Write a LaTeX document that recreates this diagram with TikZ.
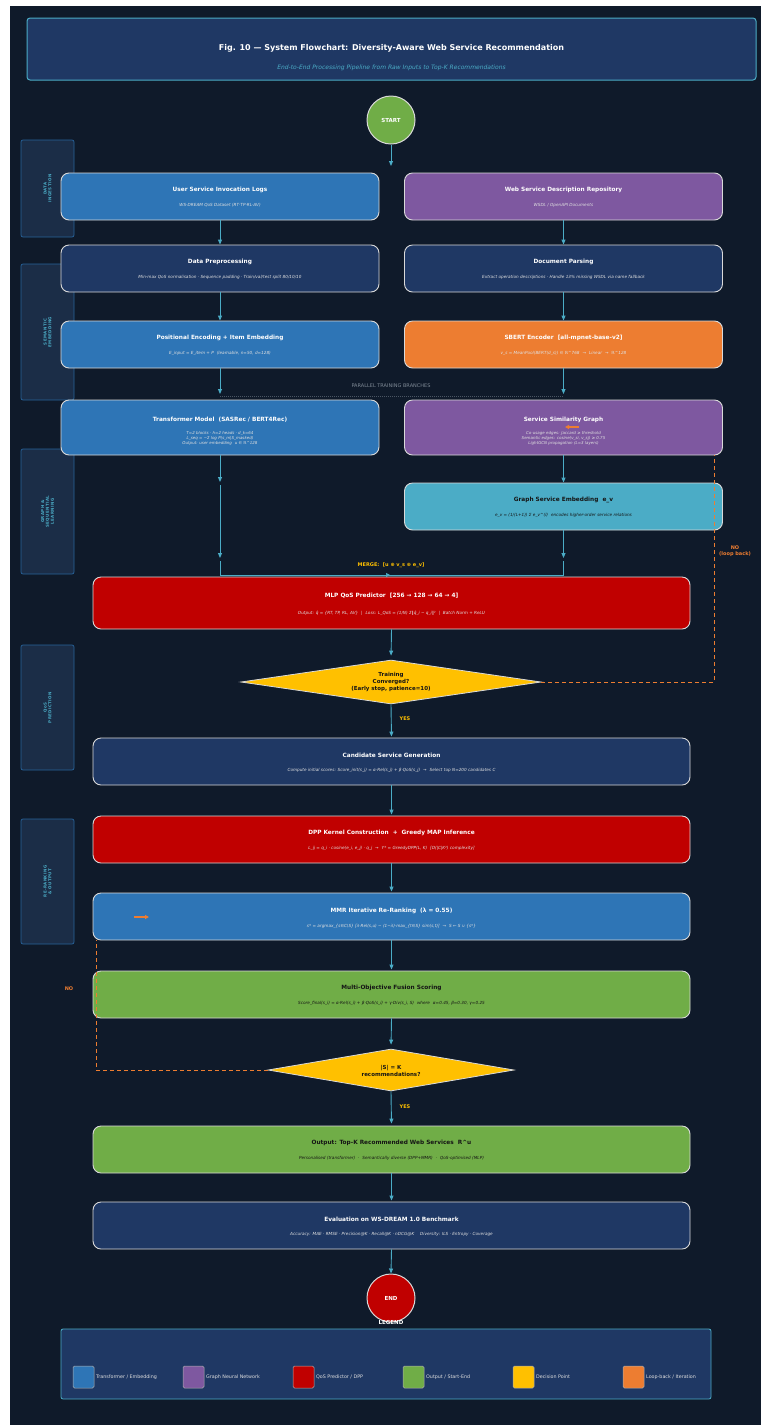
\documentclass[tikz,border=0pt]{standalone}
\usepackage{fontspec}
\setmainfont{DejaVu Sans}
\usetikzlibrary{shapes.geometric,arrows.meta}
\definecolor{bg}{HTML}{0F1A2A}
\definecolor{navy}{HTML}{1F3864}
\definecolor{cblue}{HTML}{2E75B6}
\definecolor{cpurple}{HTML}{7E58A0}
\definecolor{corange}{HTML}{ED7D31}
\definecolor{cred}{HTML}{C00000}
\definecolor{cgreen}{HTML}{70AD47}
\definecolor{cyellow}{HTML}{FFC000}
\definecolor{cteal}{HTML}{4BACC6}
\definecolor{lanefill}{HTML}{1B2D47}
\definecolor{edgec}{HTML}{D9D9D9}
\definecolor{darktxt}{HTML}{151515}
\definecolor{graytxt}{HTML}{7F8A96}
\definecolor{dotc}{HTML}{4A5563}
\newcommand\myg{\hspace{0.7em}}
\tikzset{
  box/.style={draw=edgec, line width=0.9pt, rounded corners=8pt, minimum height=47pt, inner sep=0pt},
  lbox/.style={box, minimum width=318pt},
  wbox/.style={box, minimum width=597pt},
  ttlw/.style={font=\fontsize{5.8}{7}\selectfont\bfseries, text=white, inner sep=0pt},
  ttld/.style={ttlw, text=darktxt},
  subw/.style={font=\fontsize{4.2}{5}\selectfont\itshape, text=white!88!black, inner sep=0pt, align=center},
  subd/.style={subw, text=darktxt},
  arr/.style={draw=cteal, line width=0.9pt, -{Triangle[length=5pt,width=4pt]}},
  plain/.style={draw=cteal, line width=0.9pt},
  lane/.style={draw=cblue!85!black, fill=lanefill, line width=0.7pt, rounded corners=2pt, minimum width=53pt, inner sep=0pt},
  lanetxt/.style={rotate=90, text=cteal, font=\fontsize{4}{4.8}\selectfont\bfseries\addfontfeatures{LetterSpace=10}, align=center, inner sep=0pt},
  loopl/.style={draw=corange, line width=1pt, dash pattern=on 4pt off 3pt},
  looparr/.style={draw=corange, line width=1.2pt, -{Triangle[length=4pt,width=4pt]}},
  dec/.style={diamond, fill=cyellow, draw=edgec, line width=0.8pt, inner sep=0pt},
  dectxt/.style={font=\fontsize{5.5}{7}\selectfont\bfseries, text=darktxt, align=center, inner sep=0pt},
  lbl/.style={font=\fontsize{5}{6}\selectfont\bfseries, inner sep=0pt, align=center},
  term/.style={circle, draw=edgec, line width=1pt, minimum size=48pt, inner sep=0pt, font=\fontsize{5.5}{7}\selectfont\bfseries, text=white},
  sw/.style={draw=edgec!80!black, line width=0.5pt, rounded corners=1.5pt, minimum width=21pt, minimum height=22pt, inner sep=0pt},
  swt/.style={font=\fontsize{4.8}{6}\selectfont, text=white!88!black, anchor=west, inner sep=0pt},
}
\begin{document}
\begin{tikzpicture}[x=1pt,y=-1pt]
\useasboundingbox (0,0) rectangle (761,1425);
\fill[white] (0,0) rectangle (761,1425);
\fill[bg] (10,6) rectangle (761,1425);

% title
\node[draw=cteal, fill=navy, line width=1pt, rounded corners=3pt, minimum width=729pt, minimum height=62pt, inner sep=0pt] (title) at (391.5,49) {};
\node[font=\fontsize{8}{10}\selectfont\bfseries, text=white, inner sep=0pt] (titlet) at ([yshift=1pt]title.center) {Fig. 10 — System Flowchart: Diversity-Aware Web Service Recommendation};
\node[font=\fontsize{6}{8}\selectfont\itshape, text=cteal, inner sep=0pt] (titles) at ([yshift=-19pt]title.center) {End-to-End Processing Pipeline from Raw Inputs to Top-K Recommendations};

% lanes
\node[lane, minimum height=97pt] (lane1) at (47.5,188.5) {};
\node[lanetxt] (lane1t) at (lane1.center) {DATA\\INGESTION};
\node[lane, minimum height=136pt] (lane2) at (47.5,332) {};
\node[lanetxt] (lane2t) at (lane2.center) {SEMANTIC\\EMBEDDING};
\node[lane, minimum height=125pt] (lane3) at (47.5,511.5) {};
\node[lanetxt] (lane3t) at (lane3.center) {GRAPH \&\\SEQUENTIAL\\LEARNING};
\node[lane, minimum height=125pt] (lane4) at (47.5,707.5) {};
\node[lanetxt] (lane4t) at (lane4.center) {QoS\\PREDICTION};
\node[lane, minimum height=125pt] (lane5) at (47.5,881.5) {};
\node[lanetxt] (lane5t) at (lane5.center) {RE-RANKING\\\& OUTPUT};

% start
\node[term, fill=cgreen] (start) at (391,120) {START};
\coordinate (startend) at (391,166);

% row 1
\node[lbox, fill=cblue] (logs) at (220,196.5) {};
\node[ttlw] (logst) at ([yshift=6.5pt]logs.center) {User Service Invocation Logs};
\node[subw] (logss) at ([yshift=-8.5pt]logs.center) {WS-DREAM QoS Dataset (RT·TP·RL·AV)};
\node[lbox, fill=cpurple] (repo) at (563.5,196.5) {};
\node[ttlw] (repot) at ([yshift=6.5pt]repo.center) {Web Service Description Repository};
\node[subw] (repos) at ([yshift=-8.5pt]repo.center) {WSDL / OpenAPI Documents};

% row 2
\node[lbox, fill=navy] (prep) at (220,268.5) {};
\node[ttlw] (prept) at ([yshift=6.5pt]prep.center) {Data Preprocessing};
\node[subw] (preps) at ([yshift=-8.5pt]prep.center) {Min-max QoS normalisation · Sequence padding · Train/val/test split 80/10/10};
\node[lbox, fill=navy] (parse) at (563.5,268.5) {};
\node[ttlw] (parset) at ([yshift=6.5pt]parse.center) {Document Parsing};
\node[subw] (parses) at ([yshift=-8.5pt]parse.center) {Extract operation descriptions · Handle 13\% missing WSDL via name fallback};

% row 3
\node[lbox, fill=cblue] (posenc) at (220,344.5) {};
\node[ttlw] (posenct) at ([yshift=6.5pt]posenc.center) {Positional Encoding + Item Embedding};
\node[subw] (posencs) at ([yshift=-8.5pt]posenc.center) {E\_input = E\_item + P\myg(learnable, n=50, d=128)};
\node[lbox, fill=corange] (sbert) at (563.5,344.5) {};
\node[ttlw] (sbertt) at ([yshift=6.5pt]sbert.center) {SBERT Encoder\myg[all-mpnet-base-v2]};
\node[subw] (sberts) at ([yshift=-8.5pt]sbert.center) {v\_s = MeanPool(BERT(d\_s)) ∈ ℝ\textasciicircum 768\myg→\myg Linear\myg→\myg ℝ\textasciicircum 128};

% parallel
\coordinate (pl) at (220,394);
\coordinate (pr) at (563.5,394);
\coordinate (dl) at (220,396);
\coordinate (dr) at (563.5,396);
\node[font=\fontsize{5}{6}\selectfont, text=graytxt, inner sep=0pt] (partxt) at (391,386) {PARALLEL TRAINING BRANCHES};

% row 4
\node[lbox, fill=cblue, minimum height=55pt] (trans) at (220,427.5) {};
\node[ttlw] (transt) at (220,420) {Transformer Model\myg(SASRec / BERT4Rec)};
\node[subw, font=\fontsize{4}{5}\selectfont\itshape] (transs) at (220,438) {T=2 blocks · h=2 heads · d\_k=64\\L\_seq = −Σ log P(s\_m|S\_masked)\\Output: user embedding\myg u ∈ ℝ\textasciicircum 128};
\node[lbox, fill=cpurple, minimum height=55pt] (ssg) at (563.5,427.5) {};
\node[ttlw] (ssgt) at (563.5,420) {Service Similarity Graph};
\node[subw, font=\fontsize{4}{5}\selectfont\itshape] (ssgs) at (563.5,438) {Co-usage edges: Jaccard ≥ threshold\\Semantic edges: cosine(v\_si, v\_sj) ≥ 0.75\\LightGCN propagation (L=3 layers)};

% graph embedding
\node[lbox, fill=cteal] (gse) at (563.5,506.5) {};
\node[ttld] (gset) at ([yshift=6.5pt]gse.center) {Graph Service Embedding\myg e\_v};
\node[subd] (gses) at ([yshift=-8.5pt]gse.center) {e\_v = (1/(L+1)) Σ e\_v\textasciicircum(l)\myg encodes higher-order service relations};

% merge coordinates
\coordinate (lt1) at (220,482);
\coordinate (lt2) at (220,485);
\coordinate (lt3) at (220,558);
\coordinate (lt4) at (220,561);
\coordinate (rt3) at (563.5,558);
\coordinate (rt4) at (563.5,561);
\coordinate (merge) at (391,575);
\node[lbl, text=cyellow] (mergel) at (391,565.5) {MERGE:\myg[u ⊕ v\_s ⊕ e\_v]};

% MLP
\node[wbox, fill=cred, minimum height=52pt] (mlp) at (391.5,603) {};
\node[ttlw] (mlpt) at ([yshift=7pt]mlp.center) {MLP QoS Predictor\myg[256 → 128 → 64 → 4]};
\node[subw] (mlps) at ([yshift=-10pt]mlp.center) {Output: \^{q} = \{RT, TP, RL, AV\}\myg|\myg Loss: L\_QoS = (1/N) Σ‖\^{q}\_i − q\_i‖²\myg|\myg Batch Norm + ReLU};

% decision 1
\node[dec, minimum width=300pt, minimum height=44pt] (d1) at (391,682) {};
\node[dectxt] (d1t) at (d1.center) {Training\\Converged?\\(Early stop, patience=10)};
\node[lbl, text=cyellow] (yes1) at (405,719) {YES};
\coordinate (nl1a) at (714,682);
\coordinate (nl1b) at (714,455);
\node[lbl, text=corange, font=\fontsize{5}{6.2}\selectfont\bfseries] (no1) at (735,551) {NO\\(loop back)};
\coordinate (oa1s) at (579,427);
\coordinate (oa1e) at (565,427);

% candidate
\node[wbox, fill=navy] (cand) at (391.5,761.5) {};
\node[ttlw] (candt) at ([yshift=6.5pt]cand.center) {Candidate Service Generation};
\node[subw] (cands) at ([yshift=-8.5pt]cand.center) {Compute initial scores: Score\_init(s\_j) = α·Rel(s\_j) + β·QoS(s\_j)\myg→\myg Select top N=200 candidates C};

% DPP
\node[wbox, fill=cred] (dpp) at (391.5,839.5) {};
\node[ttlw] (dppt) at ([yshift=6.5pt]dpp.center) {DPP Kernel Construction\myg+\myg Greedy MAP Inference};
\node[subw] (dpps) at ([yshift=-8.5pt]dpp.center) {L\_ij = q\_i · cosine(e\_i, e\_j) · q\_j\myg→\myg Y* = GreedyDPP(L, K)\myg[O(|C|K²) complexity]};

% MMR
\node[wbox, fill=cblue] (mmr) at (391.5,916.5) {};
\node[ttlw] (mmrt) at ([yshift=5.5pt]mmr.center) {MMR Iterative Re-Ranking\myg(λ = 0.55)};
\node[subw] (mmrs) at ([yshift=-9.5pt]mmr.center) {s* = argmax\_\{s∈C\textbackslash S\} [λ·Rel(s,u) − (1−λ)·max\_\{t∈S\} sim(s,t)]\myg→\myg S ← S ∪ \{s*\}};
\coordinate (oa2s) at (134,917);
\coordinate (oa2e) at (149,917);

% fusion
\node[wbox, fill=cgreen] (fus) at (391.5,994.5) {};
\node[ttld] (fust) at ([yshift=6.5pt]fus.center) {Multi-Objective Fusion Scoring};
\node[subd] (fuss) at ([yshift=-8.5pt]fus.center) {Score\_final(s\_i) = α·Rel(s\_i) + β·QoS(s\_i) + γ·Div(s\_i, S)\myg where\myg α=0.45, β=0.30, γ=0.25};

% decision 2
\node[dec, minimum width=246pt, minimum height=42pt] (d2) at (391,1070) {};
\node[dectxt] (d2t) at ([yshift=-0.5pt]d2.center) {|S| = K\\recommendations?};
\node[lbl, text=cyellow] (yes2) at (405,1107) {YES};
\coordinate (nl2a) at (96,1070);
\coordinate (nl2b) at (96,940);
\node[lbl, text=corange] (no2) at (69,989) {NO};

% output
\node[wbox, fill=cgreen] (outp) at (391.5,1149.5) {};
\node[ttld] (outpt) at ([yshift=6.5pt]outp.center) {Output: Top-K Recommended Web Services\myg R\textasciicircum u};
\node[subd] (outps) at ([yshift=-8.5pt]outp.center) {Personalised (transformer)\myg·\myg Semantically diverse (DPP+MMR)\myg·\myg QoS-optimised (MLP)};

% evaluation
\node[wbox, fill=navy] (eval) at (391.5,1225.5) {};
\node[ttlw] (evalt) at ([yshift=6.5pt]eval.center) {Evaluation on WS-DREAM 1.0 Benchmark};
\node[subw] (evals) at ([yshift=-9pt]eval.center) {Accuracy: MAE · RMSE · Precision@K · Recall@K · nDCG@K\myg\myg Diversity: ILS · Entropy · Coverage};

% end
\node[term, fill=cred] (end) at (391,1298) {END};

% connectors
\draw[arr] (start.south) -- (startend);
\draw[arr] (logs.south) -- (prep.north);
\draw[arr] (repo.south) -- (parse.north);
\draw[arr] (prep.south) -- (posenc.north);
\draw[arr] (parse.south) -- (sbert.north);
\draw[arr] (posenc.south) -- (pl);
\draw[arr] (sbert.south) -- (pr);
\draw[draw=dotc, line width=1pt, dash pattern=on 1pt off 1pt] (dl) -- (dr);
\draw[arr] (trans.south) -- (lt1);
\draw[arr] (lt2) -- (lt3);
\draw[arr] (ssg.south) -- (gse.north);
\draw[arr] (gse.south) -- (rt3);
\draw[plain] (lt4) |- (merge);
\draw[plain] (rt4) |- (merge);
\draw[draw=cteal, line width=0.7pt, -{Triangle[length=4pt,width=4pt]}] ([xshift=-5pt]merge) -- ([xshift=-1pt]merge);
\draw[arr, shorten >=4pt] (mlp.south) -- (d1.north);
\draw[loopl] (d1.east) -- (nl1a) -- (nl1b);
\draw[looparr] (oa1s) -- (oa1e);
\draw[arr, shorten >=1pt] (d1.south) -- (cand.north);
\draw[arr, shorten >=1pt] (cand.south) -- (dpp.north);
\draw[arr, shorten >=1pt] (dpp.south) -- (mmr.north);
\draw[arr, shorten >=1pt] (mmr.south) -- (fus.north);
\draw[arr, shorten >=4pt] (fus.south) -- (d2.north);
\draw[loopl] (d2.west) -- (nl2a) -- (nl2b);
\draw[looparr] (oa2s) -- (oa2e);
\draw[arr, shorten >=2pt] (d2.south) -- (outp.north);
\draw[arr, shorten >=1pt] (outp.south) -- (eval.north);
\draw[arr] (eval.south) -- (end.north);

% legend
\node[draw=cteal, fill=navy, line width=0.8pt, rounded corners=2pt, minimum width=650pt, minimum height=70pt, inner sep=0pt] (legend) at (386,1364) {};
\node[font=\fontsize{5.5}{7}\selectfont\bfseries, text=white, inner sep=0pt] (legendt) at (391,1322) {LEGEND};
\node[sw, fill=cblue] (sw1) at (83.5,1377) {};
\node[swt] (sw1t) at (96,1377) {Transformer / Embedding};
\node[sw, fill=cpurple] (sw2) at (193.5,1377) {};
\node[swt] (sw2t) at (206,1377) {Graph Neural Network};
\node[sw, fill=cred] (sw3) at (303.5,1377) {};
\node[swt] (sw3t) at (316,1377) {QoS Predictor / DPP};
\node[sw, fill=cgreen] (sw4) at (413.5,1377) {};
\node[swt] (sw4t) at (426,1377) {Output / Start-End};
\node[sw, fill=cyellow] (sw5) at (523.5,1377) {};
\node[swt] (sw5t) at (536,1377) {Decision Point};
\node[sw, fill=corange] (sw6) at (633.5,1377) {};
\node[swt] (sw6t) at (646,1377) {Loop-back / Iteration};
\end{tikzpicture}
\end{document}
